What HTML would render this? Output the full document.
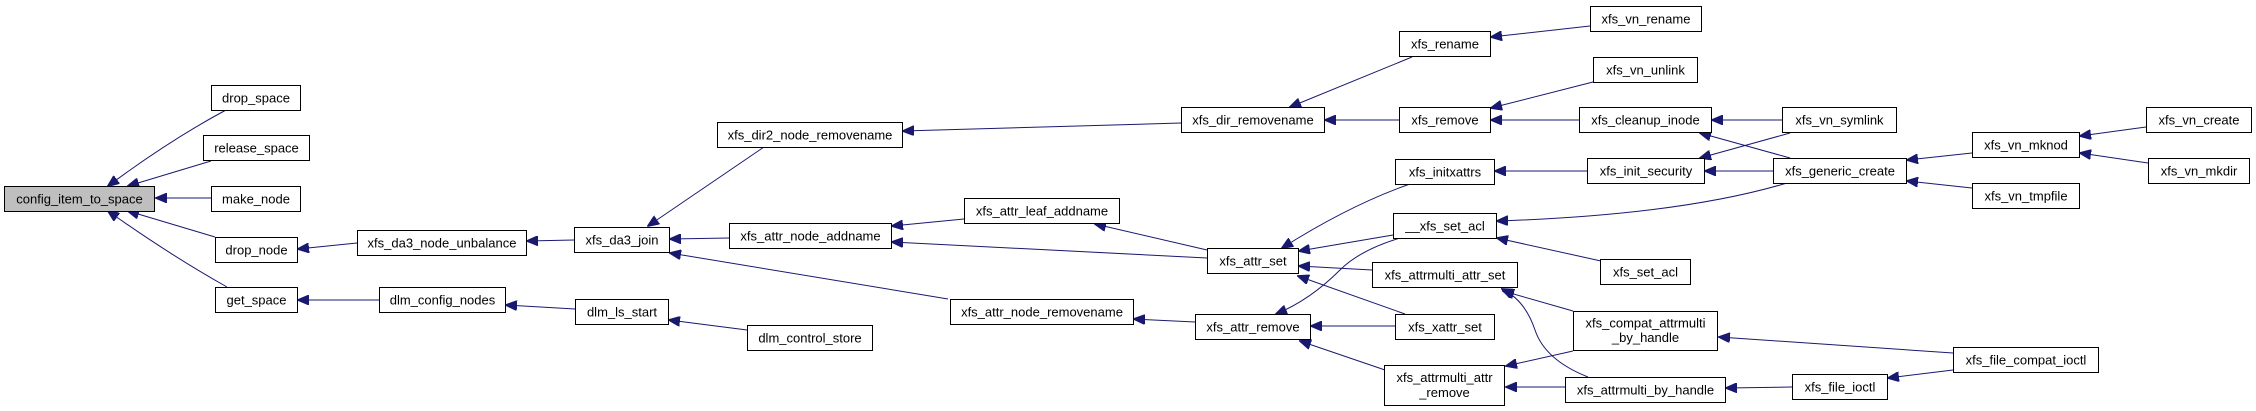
<!DOCTYPE html>
<html><head><meta charset="utf-8"><style>
html,body{margin:0;padding:0;background:#fff;}
svg{display:block;}
text{font-family:"Liberation Sans",Arial,sans-serif;font-size:13px;fill:#000;}
.b{fill:#fff;stroke:#000;stroke-width:1;}
.e{fill:none;stroke:#191970;stroke-width:1;marker-end:url(#a);}
</style></head><body>
<svg width="2256" height="411" viewBox="0 0 2256 411" xmlns="http://www.w3.org/2000/svg">
<defs><marker id="a" markerWidth="12" markerHeight="10" refX="11" refY="5" orient="auto" markerUnits="userSpaceOnUse"><path d="M0,0 L12,5 L0,10 z" fill="#191970" stroke="#191970"/></marker></defs>
<g>
<path class="e" d="M226,110 Q170,140 108,186"/>
<path class="e" d="M211,161 L128,186"/>
<path class="e" d="M211,198 L156,198"/>
<path class="e" d="M215,237 L128,211"/>
<path class="e" d="M227,287 Q170,255 108,211"/>
<path class="e" d="M357,243 L298,249"/>
<path class="e" d="M379,300 L298,300"/>
<path class="e" d="M574,240 L527,241"/>
<path class="e" d="M575,309 L506,305"/>
<path class="e" d="M764,147 L648,226"/>
<path class="e" d="M729,238 L670,239"/>
<path class="e" d="M948,299 L670,253"/>
<path class="e" d="M747,330 L669,320"/>
<path class="e" d="M1181,123 L903,131"/>
<path class="e" d="M964,219 L892,226"/>
<path class="e" d="M1207,258 L892,242"/>
<path class="e" d="M1207,250 L1095,224"/>
<path class="e" d="M1195,322 L1134,319"/>
<path class="e" d="M1412,57 L1290,107"/>
<path class="e" d="M1399,120 L1325,120"/>
<path class="e" d="M1410,184 Q1350,205 1282,248"/>
<path class="e" d="M1393,235 L1299,251"/>
<path class="e" d="M1372,270 L1299,266"/>
<path class="e" d="M1405,314 L1298,276"/>
<path class="e" d="M1400,238 Q1360,250 1340,270 Q1310,300 1276,314"/>
<path class="e" d="M1395,326 L1311,326"/>
<path class="e" d="M1385,370 L1300,341"/>
<path class="e" d="M1590,26 L1491,37"/>
<path class="e" d="M1593,82 L1491,108"/>
<path class="e" d="M1579,120 L1491,120"/>
<path class="e" d="M1782,120 L1712,120"/>
<path class="e" d="M1790,158 L1700,133"/>
<path class="e" d="M1790,133 L1700,158"/>
<path class="e" d="M1773,171 L1705,171"/>
<path class="e" d="M1587,171 L1495,171"/>
<path class="e" d="M1787,183 Q1680,215 1497,221"/>
<path class="e" d="M1601,261 L1497,238"/>
<path class="e" d="M1972,153 L1907,160"/>
<path class="e" d="M1972,188 L1907,181"/>
<path class="e" d="M2146,127 L2080,136"/>
<path class="e" d="M2148,163 L2080,153"/>
<path class="e" d="M1573,311 L1503,291"/>
<path class="e" d="M1588,377 Q1545,360 1535,330 Q1525,300 1502,289"/>
<path class="e" d="M1573,351 L1506,366"/>
<path class="e" d="M1565,387 L1506,387"/>
<path class="e" d="M1953,353 L1719,337"/>
<path class="e" d="M1792,387 L1726,388"/>
<path class="e" d="M1953,370 L1888,378"/>
</g>
<g>
<rect x="4.5" y="186.5" width="150" height="25" style="fill:#bfbfbf;stroke:#000"/><text x="79.5" y="203.5" text-anchor="middle">config_item_to_space</text>
<rect class="b" x="211.5" y="85.5" width="89" height="25"/><text x="256" y="102.5" text-anchor="middle">drop_space</text>
<rect class="b" x="203.5" y="135.5" width="106" height="25"/><text x="256.5" y="152.5" text-anchor="middle">release_space</text>
<rect class="b" x="211.5" y="186.5" width="89" height="25"/><text x="256" y="203.5" text-anchor="middle">make_node</text>
<rect class="b" x="215.5" y="237.5" width="82" height="25"/><text x="256.5" y="254.5" text-anchor="middle">drop_node</text>
<rect class="b" x="215.5" y="287.5" width="82" height="25"/><text x="256.5" y="304.5" text-anchor="middle">get_space</text>
<rect class="b" x="357.5" y="230.5" width="169" height="25"/><text x="442" y="247.5" text-anchor="middle">xfs_da3_node_unbalance</text>
<rect class="b" x="379.5" y="287.5" width="126" height="25"/><text x="442.5" y="304.5" text-anchor="middle">dlm_config_nodes</text>
<rect class="b" x="574.5" y="227.5" width="95" height="25"/><text x="622" y="244.5" text-anchor="middle">xfs_da3_join</text>
<rect class="b" x="575.5" y="299.5" width="93" height="25"/><text x="622" y="316.5" text-anchor="middle">dlm_ls_start</text>
<rect class="b" x="717.5" y="122.5" width="185" height="25"/><text x="810" y="139.5" text-anchor="middle">xfs_dir2_node_removename</text>
<rect class="b" x="729.5" y="223.5" width="162" height="25"/><text x="810.5" y="240.5" text-anchor="middle">xfs_attr_node_addname</text>
<rect class="b" x="950.5" y="299.5" width="183" height="25"/><text x="1042" y="316.5" text-anchor="middle">xfs_attr_node_removename</text>
<rect class="b" x="747.5" y="325.5" width="125" height="25"/><text x="810" y="342.5" text-anchor="middle">dlm_control_store</text>
<rect class="b" x="964.5" y="198.5" width="155" height="25"/><text x="1042" y="215.5" text-anchor="middle">xfs_attr_leaf_addname</text>
<rect class="b" x="1181.5" y="107.5" width="143" height="25"/><text x="1253" y="124.5" text-anchor="middle">xfs_dir_removename</text>
<rect class="b" x="1207.5" y="248.5" width="91" height="25"/><text x="1253" y="265.5" text-anchor="middle">xfs_attr_set</text>
<rect class="b" x="1195.5" y="314.5" width="115" height="25"/><text x="1253" y="331.5" text-anchor="middle">xfs_attr_remove</text>
<rect class="b" x="1399.5" y="31.5" width="91" height="25"/><text x="1445" y="48.5" text-anchor="middle">xfs_rename</text>
<rect class="b" x="1399.5" y="107.5" width="91" height="25"/><text x="1445" y="124.5" text-anchor="middle">xfs_remove</text>
<rect class="b" x="1395.5" y="159.5" width="99" height="25"/><text x="1445" y="176.5" text-anchor="middle">xfs_initxattrs</text>
<rect class="b" x="1393.5" y="213.5" width="103" height="25"/><text x="1445" y="230.5" text-anchor="middle">__xfs_set_acl</text>
<rect class="b" x="1372.5" y="262.5" width="145" height="25"/><text x="1445" y="279.5" text-anchor="middle">xfs_attrmulti_attr_set</text>
<rect class="b" x="1395.5" y="314.5" width="99" height="25"/><text x="1445" y="331.5" text-anchor="middle">xfs_xattr_set</text>
<rect class="b" x="1384.5" y="365.5" width="120" height="40"/><text x="1444.5" y="382" text-anchor="middle">xfs_attrmulti_attr</text><text x="1444.5" y="397" text-anchor="middle">_remove</text>
<rect class="b" x="1590.5" y="6.5" width="111" height="25"/><text x="1646" y="23.5" text-anchor="middle">xfs_vn_rename</text>
<rect class="b" x="1593.5" y="57.5" width="104" height="25"/><text x="1645.5" y="74.5" text-anchor="middle">xfs_vn_unlink</text>
<rect class="b" x="1579.5" y="107.5" width="132" height="25"/><text x="1645.5" y="124.5" text-anchor="middle">xfs_cleanup_inode</text>
<rect class="b" x="1782.5" y="107.5" width="114" height="25"/><text x="1839.5" y="124.5" text-anchor="middle">xfs_vn_symlink</text>
<rect class="b" x="1587.5" y="158.5" width="117" height="25"/><text x="1646" y="175.5" text-anchor="middle">xfs_init_security</text>
<rect class="b" x="1773.5" y="158.5" width="133" height="25"/><text x="1840" y="175.5" text-anchor="middle">xfs_generic_create</text>
<rect class="b" x="1972.5" y="132.5" width="107" height="25"/><text x="2026" y="149.5" text-anchor="middle">xfs_vn_mknod</text>
<rect class="b" x="2146.5" y="107.5" width="105" height="25"/><text x="2199" y="124.5" text-anchor="middle">xfs_vn_create</text>
<rect class="b" x="2148.5" y="158.5" width="101" height="25"/><text x="2199" y="175.5" text-anchor="middle">xfs_vn_mkdir</text>
<rect class="b" x="1972.5" y="183.5" width="107" height="25"/><text x="2026" y="200.5" text-anchor="middle">xfs_vn_tmpfile</text>
<rect class="b" x="1600.5" y="259.5" width="90" height="25"/><text x="1645.5" y="276.5" text-anchor="middle">xfs_set_acl</text>
<rect class="b" x="1573.5" y="311.5" width="144" height="39"/><text x="1645.5" y="327.5" text-anchor="middle">xfs_compat_attrmulti</text><text x="1645.5" y="342" text-anchor="middle">_by_handle</text>
<rect class="b" x="1565.5" y="377.5" width="160" height="25"/><text x="1645.5" y="394.5" text-anchor="middle">xfs_attrmulti_by_handle</text>
<rect class="b" x="1792.5" y="374.5" width="95" height="25"/><text x="1840" y="391.5" text-anchor="middle">xfs_file_ioctl</text>
<rect class="b" x="1953.5" y="347.5" width="145" height="25"/><text x="2026" y="364.5" text-anchor="middle">xfs_file_compat_ioctl</text>
</g>
</svg>
</body></html>
